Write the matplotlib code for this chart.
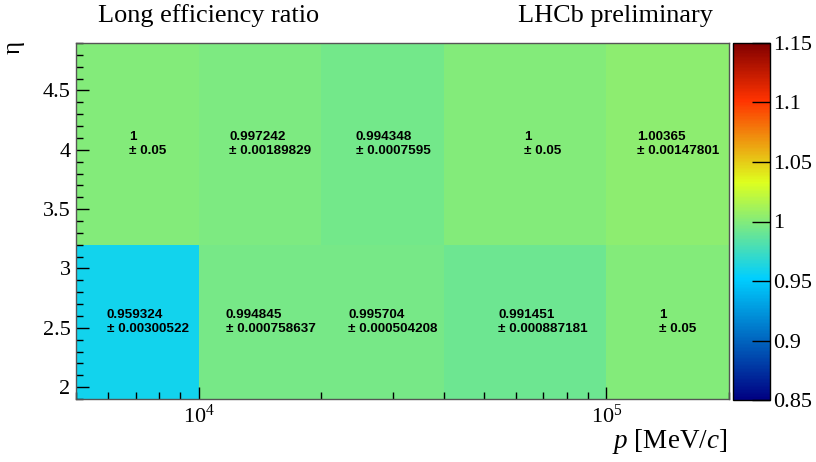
import numpy as np
import matplotlib
matplotlib.use("Agg")
import matplotlib.pyplot as plt
from matplotlib.colors import LinearSegmentedColormap
from matplotlib.ticker import FixedLocator, FixedFormatter, LogLocator, NullFormatter, MultipleLocator

# binning and efficiency ratio values
p_edges = [5000, 10000, 20000, 40000, 100000, 200000]
eta_edges = [1.9, 3.2, 4.9]

ratio_low = [0.959324, 0.994845, 0.995704, 0.991451, 1.0]
error_low = [0.00300522, 0.000758637, 0.000504208, 0.000887181, 0.05]
ratio_high = [1.0, 0.997242, 0.994348, 1.0, 1.00365]
error_high = [0.05, 0.00189829, 0.0007595, 0.05, 0.00147801]

cbar_ticks = [0.85, 0.9, 0.95, 1.0, 1.05, 1.1, 1.15]
cbar_labels = ["0.85", "0.9", "0.95", "1", "1.05", "1.1", "1.15"]

plt.rcParams['font.family'] = ['Liberation Serif', 'DejaVu Serif']
plt.rcParams['mathtext.fontset'] = 'custom'
plt.rcParams['mathtext.rm'] = 'Liberation Serif'
plt.rcParams['mathtext.it'] = 'Liberation Serif:italic'

# LHCb style palette
stops = [0.00, 0.34, 0.61, 0.84, 1.00]
red = [0.00, 0.00, 0.87, 1.00, 0.51]
green = [0.00, 0.81, 1.00, 0.20, 0.00]
blue = [0.51, 1.00, 0.12, 0.00, 0.00]
cmap = LinearSegmentedColormap.from_list(
    "lhcb", list(zip(stops, zip(red, green, blue))), N=255)

fig = plt.figure(figsize=(8.16, 4.62), dpi=100)
ax = fig.add_axes([76/816, 1-399/462, 653/816, 356/462])
cax = fig.add_axes([733/816, 1-400/462, 37/816, 357/462])

Z = np.array([ratio_low, ratio_high])
mesh = ax.pcolormesh(p_edges, eta_edges, Z, cmap=cmap, vmin=0.85, vmax=1.15)
ax.set_xscale('log')
ax.set_xlim(p_edges[0], p_edges[-1])
ax.set_ylim(eta_edges[0], eta_edges[-1])

# cell labels: value and error, centred on the linear bin centre
for j, (vals, errs) in enumerate([(ratio_low, error_low), (ratio_high, error_high)]):
    yc = 0.5 * (eta_edges[j] + eta_edges[j + 1])
    for i in range(len(vals)):
        xc = 0.5 * (p_edges[i] + p_edges[i + 1])
        ax.text(xc, yc, "%g\n± %g" % (vals[i], errs[i]), ha='center', va='center',
                multialignment='left', fontsize=9.7, fontweight='bold',
                family=['Liberation Sans', 'DejaVu Sans'], linespacing=1.2)

ax.xaxis.set_major_locator(FixedLocator([1e4, 1e5]))
ax.xaxis.set_major_formatter(FixedFormatter([r"$10^{4}$", r"$10^{5}$"]))
ax.xaxis.set_minor_locator(LogLocator(base=10, subs=range(2, 10)))
ax.xaxis.set_minor_formatter(NullFormatter())
ax.yaxis.set_minor_locator(MultipleLocator(0.1))
ax.set_yticks([2, 2.5, 3, 3.5, 4, 4.5])
ax.set_yticklabels(["2", "2.5", "3", "3.5", "4", "4.5"])
ax.tick_params(which='both', direction='in', top=False, right=False, labelsize=16, width=1)
ax.tick_params(which='major', length=9)
ax.tick_params(which='minor', length=5)
ax.tick_params(axis='x', pad=4)
ax.tick_params(axis='y', pad=4)
for s in ax.spines.values():
    s.set_color('#555555')
    s.set_linewidth(1)

cb = fig.colorbar(mesh, cax=cax)
cb.set_ticks(cbar_ticks)
cb.set_ticklabels(cbar_labels)
cax.tick_params(direction='in', length=13, width=1, labelsize=16, pad=2)
cb.outline.set_linewidth(1)

fig.text(98/816, 1-16/462, "Long efficiency ratio", fontsize=18.9, va='center', ha='left')
fig.text(713/816, 1-16/462, "LHCb preliminary", fontsize=18.9, va='center', ha='right')
fig.text(727/816, 1-441/462, r"$p$ [MeV/$c$]", fontsize=19.5, va='center', ha='right')
fig.text(14/816, 1-47/462, "η", fontsize=18, va='center', ha='center', rotation=90)

fig.savefig("out.png", dpi=100)
